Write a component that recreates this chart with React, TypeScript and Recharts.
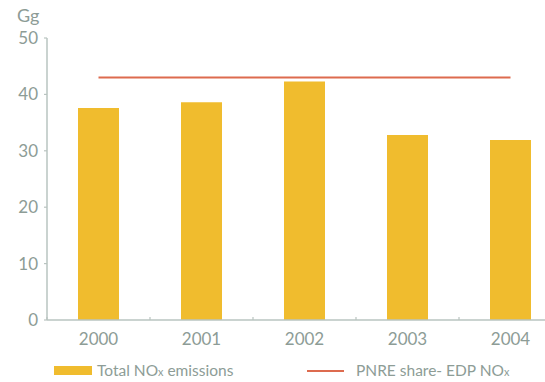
import React from 'react';
import { ComposedChart, Bar, Line, XAxis, YAxis, Legend } from 'recharts';

const years = ['2000', '2001', '2002', '2003', '2004'];
const totalNOx = [37.6, 38.6, 42.3, 32.8, 31.9];
const pnreShare = [43, 43, 43, 43, 43];
const yTicks = [0, 10, 20, 30, 40, 50];
const barName = 'Total NOx emissions';
const lineName = 'PNRE share- EDP NOx';
const unitLabel = 'Gg';

const data = years.map((year, i) => ({ year, total: totalNOx[i], pnre: pnreShare[i] }));

const TEXT = '#8d9c96';
const AXIS = '#b9c4c0';
const BAR = '#F0BC2E';
const LINE = '#DD6B4F';
const FONT = 'Lato, sans-serif';
const X_TICK_MARGIN = 12.7;

function withSub(s: string) {
  const parts = s.split('NOx');
  const out: React.ReactNode[] = [];
  parts.forEach((p, i) => {
    out.push(<span key={'p' + i}>{p}</span>);
    if (i < parts.length - 1) {
      out.push(<span key={'n' + i}>NO<span style={{ fontSize: '0.7em' }}>x</span></span>);
    }
  });
  return out;
}

const XTick = (props: any) => {
  const { x, y, payload, width, visibleTicksCount } = props;
  const band = Number(width) / Number(visibleTicksCount);
  const axisY = y - X_TICK_MARGIN;
  const bx = x - band / 2;
  return (
    <g>
      {Number.isFinite(bx) && (
        <line x1={bx} x2={bx} y1={axisY - 3} y2={axisY} stroke={AXIS} strokeWidth={1.2} />
      )}
      <text x={x} y={y} dy="0.71em" textAnchor="middle" fill={TEXT} fontSize={17} fontFamily={FONT}>
        {payload.value}
      </text>
    </g>
  );
};

const UnitLabel = (props: any) => {
  const vb = props.viewBox || {};
  return (
    <text x={(vb.x || 0) + 17} y={(vb.y || 0) - 16} fill={TEXT} fontSize={18} fontFamily={FONT}>
      {unitLabel}
    </text>
  );
};

const legendLayout: Record<string, { swatch: number; text: number }> = {
  total: { swatch: 54, text: 97 },
  pnre: { swatch: 307, text: 356 },
};

const renderLegend = (props: any) => {
  const payload = props.payload || [];
  return (
    <div style={{ position: 'relative', height: 32, fontFamily: FONT, fontSize: 15.5, color: TEXT }}>
      {payload.map((entry: any) => {
        const key = entry.dataKey as string;
        const pos = legendLayout[key];
        if (!pos) return null;
        const isLine = key === 'pnre';
        return (
          <React.Fragment key={key}>
            {isLine ? (
              <div style={{ position: 'absolute', left: pos.swatch, top: 19.5, width: 37, height: 2, background: LINE }} />
            ) : (
              <div style={{ position: 'absolute', left: pos.swatch, top: 16, width: 38, height: 9, background: BAR }} />
            )}
            <div style={{ position: 'absolute', left: pos.text, top: 11, lineHeight: 1.2, whiteSpace: 'nowrap' }}>
              {withSub(entry.value)}
            </div>
          </React.Fragment>
        );
      })}
    </div>
  );
};

export default function App() {
  return (
    <>
      <style>{`body{margin:0;}`}</style>
      <div style={{ width: 545, height: 382, overflow: 'hidden', position: 'relative', background: '#fff' }}>
        <ComposedChart width={562} height={382} data={data} margin={{ top: 38, right: 0, bottom: 0, left: 0 }}>
          <XAxis
            dataKey="year"
            height={30}
            axisLine={{ stroke: AXIS, strokeWidth: 1.5 }}
            tickLine={false}
            tickSize={0}
            tickMargin={X_TICK_MARGIN}
            tick={<XTick />}
            interval={0}
          />
          <YAxis
            width={47}
            domain={[0, 50]}
            ticks={yTicks}
            interval={0}
            tickSize={3}
            tickMargin={6}
            axisLine={{ stroke: AXIS, strokeWidth: 1.5 }}
            tickLine={{ stroke: AXIS, strokeWidth: 1.2 }}
            tick={{ fill: TEXT, fontSize: 17, fontFamily: FONT }}
            label={<UnitLabel />}
          />
          <Legend verticalAlign="bottom" height={32} content={renderLegend} />
          <Bar dataKey="total" name={barName} fill={BAR} barSize={41} isAnimationActive={false} />
          <Line
            dataKey="pnre"
            name={lineName}
            stroke={LINE}
            strokeWidth={2}
            dot={false}
            activeDot={false}
            isAnimationActive={false}
          />
        </ComposedChart>
      </div>
    </>
  );
}
